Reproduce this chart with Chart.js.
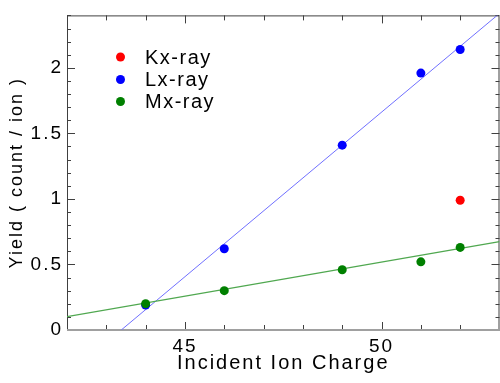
<!DOCTYPE html>
<html><head><meta charset="utf-8">
<script src="https://cdn.jsdelivr.net/npm/chart.js@4/dist/chart.umd.min.js"></script>
<style>html,body{margin:0;padding:0;background:#fff;overflow:hidden;width:500px;height:383px}
#wrap{width:504px;height:383px}</style>
</head><body><div id="wrap"><canvas id="c" width="504" height="383"></canvas></div>
<script>
const seriesNames = ['Kx-ray', 'Lx-ray', 'Mx-ray'];
const chargeK = [52];
const kxYield = [0.99];
const chargeL = [44, 46, 49, 51, 52];
const lxYield = [0.19, 0.62, 1.41, 1.96, 2.14];
const chargeM = [44, 46, 49, 51, 52];
const mxYield = [0.20, 0.30, 0.46, 0.52, 0.63];
const lxFitX = [43.38, 53];
const lxFitY = [0, 2.415];
const mxFitX = [42, 53];
const mxFitY = [0.102, 0.674];
const xTicks = [45, 50];
const yTicks = [0, 0.5, 1, 1.5, 2];

const pts = (xs, ys) => xs.map((v, i) => ({x: v, y: ys[i]}));
const FONT = '"Liberation Sans", Arial, sans-serif';

const spacing = {id: 'spacing', beforeDraw(chart) { chart.ctx.letterSpacing = '2px'; }};

const frame = {
  id: 'frame',
  beforeDatasetsDraw(chart) {
    const {ctx, chartArea: a, scales: {x, y}} = chart;
    ctx.save();
    ctx.strokeStyle = '#404040';
    ctx.lineWidth = 1;
    ctx.beginPath();
    ctx.moveTo(a.left + 0.5, a.bottom);
    ctx.lineTo(a.left + 0.5, a.top + 0.5);
    ctx.lineTo(a.right - 0.5, a.top + 0.5);
    ctx.lineTo(a.right - 0.5, a.bottom);
    ctx.stroke();
    ctx.beginPath();
    for (let v = Math.ceil(x.min); v <= x.max; v++) {
      const px = Math.round(x.getPixelForValue(v)) + 0.5;
      const len = v % 5 === 0 ? 8 : 5;
      ctx.moveTo(px, a.bottom); ctx.lineTo(px, a.bottom - len);
      ctx.moveTo(px, a.top); ctx.lineTo(px, a.top + len);
    }
    for (let k = 0; k * 0.1 <= y.max + 1e-9; k++) {
      const py = Math.round(y.getPixelForValue(k * 0.1)) + 0.5;
      const len = k % 5 === 0 ? 8 : 4;
      ctx.moveTo(a.left, py); ctx.lineTo(a.left + len, py);
      ctx.moveTo(a.right, py); ctx.lineTo(a.right - len, py);
    }
    ctx.stroke();
    ctx.strokeStyle = '#a0a0a0';
    ctx.lineWidth = 2;
    ctx.beginPath();
    ctx.moveTo(a.left, a.bottom); ctx.lineTo(a.right, a.bottom);
    ctx.stroke();
    ctx.restore();
  }
};

const legendIn = {
  id: 'legendIn',
  afterDraw(chart) {
    const {ctx} = chart;
    ctx.save();
    ctx.letterSpacing = '1.5px';
    ctx.font = '20px ' + FONT;
    ctx.textBaseline = 'middle';
    const ys = [57, 79.5, 101.5];
    [0, 1, 2].forEach((di, i) => {
      const ds = chart.data.datasets[di];
      ctx.fillStyle = ds.backgroundColor;
      ctx.beginPath();
      ctx.arc(120.5, ys[i], 4.5, 0, Math.PI * 2);
      ctx.fill();
      ctx.fillStyle = '#000';
      ctx.fillText(ds.label, 145, ys[i] + 1);
    });
    ctx.restore();
  }
};

new Chart(document.getElementById('c'), {
  type: 'scatter',
  data: {
    datasets: [
      {label: seriesNames[0], data: pts(chargeK, kxYield), backgroundColor: '#ff0000', pointRadius: 4.5, borderWidth: 0, order: 2},
      {label: seriesNames[1], data: pts(chargeL, lxYield), backgroundColor: '#0000ff', pointRadius: 4.5, borderWidth: 0, order: 1},
      {label: seriesNames[2], data: pts(chargeM, mxYield), backgroundColor: '#008000', pointRadius: 4.5, borderWidth: 0, order: 0},
      {label: 'Lx fit', type: 'line', data: pts(lxFitX, lxFitY), borderColor: '#7070ff', borderWidth: 1, pointRadius: 0, showLine: true, order: 4},
      {label: 'Mx fit', type: 'line', data: pts(mxFitX, mxFitY), borderColor: '#50a850', borderWidth: 1.3, pointRadius: 0, showLine: true, order: 3}
    ]
  },
  options: {
    responsive: false,
    animation: false,
    layout: {padding: {top: 9, right: 0.5, left: 0, bottom: 0}},
    plugins: {legend: {display: false}, tooltip: {enabled: false}},
    scales: {
      x: {
        type: 'linear', min: 42, max: 53,
        grid: {display: false, drawTicks: false},
        border: {display: false},
        afterBuildTicks: s => { s.ticks = xTicks.map(v => ({value: v})); },
        afterFit: s => { s.height = 53; },
        ticks: {color: '#000', padding: 5, font: {size: 19, family: FONT}, maxRotation: 0, callback: v => String(v)},
        title: {display: true, text: 'Incident Ion Charge', color: '#000', font: {size: 20, family: FONT}, padding: {top: 0, bottom: 8}}
      },
      y: {
        type: 'linear', min: 0, max: 2.4,
        grid: {display: false, drawTicks: false},
        border: {display: false},
        afterBuildTicks: s => { s.ticks = yTicks.map(v => ({value: v})); },
        afterFit: s => { s.width = 67; },
        ticks: {color: '#000', padding: 4, font: {size: 19, family: FONT}, callback: v => String(v)},
        title: {display: true, text: 'Yield ( count / ion )', color: '#000', font: {size: 18, family: FONT}, padding: {top: 6, bottom: 0}}
      }
    }
  },
  plugins: [spacing, frame, legendIn]
});
</script>
</body></html>
